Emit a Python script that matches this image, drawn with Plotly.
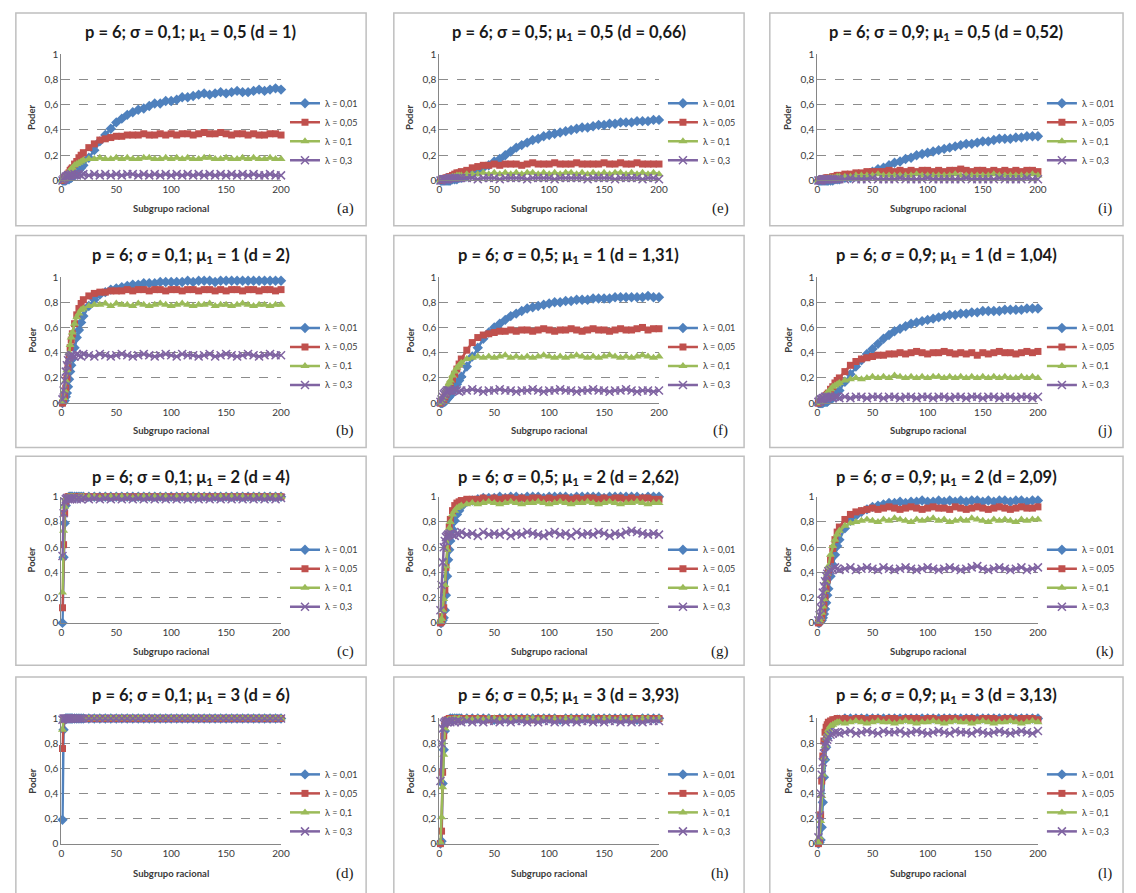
import plotly.graph_objects as go

# ---------------------------------------------------------------------------
# Data: power (Poder, in %) of the control chart per rational subgroup,
# for p = 6 and four smoothing constants lambda.
# ---------------------------------------------------------------------------
SUBGRUPO = [1, 2, 3, 4, 5, 6, 7, 8, 9, 10, 12, 14, 16, 18, 20,
            25, 30, 35, 40, 45, 50, 55, 60, 65, 70,
            75, 80, 85, 90, 95, 100, 105, 110, 115, 120,
            125, 130, 135, 140, 145, 150, 155, 160, 165, 170,
            175, 180, 185, 190, 195, 200]

LAMBDAS = ["λ = 0,01", "λ = 0,05", "λ = 0,1", "λ = 0,3"]

# (a) sigma = 0,1 ; mu1 = 0,5
a_001 = [0, 0, 0, 0, 1, 1, 1, 2, 2, 3, 4, 6, 8, 10, 12,
         18, 24, 31, 36, 41, 46, 49, 52, 54, 56,
         57, 59, 61, 61, 63, 63, 64, 66, 66, 67,
         68, 69, 68, 69, 70, 69, 70, 71, 70, 70,
         71, 72, 71, 72, 73, 72]
a_005 = [0, 1, 2, 3, 4, 5, 6, 8, 9, 10, 13, 15, 18, 20, 22,
         26, 29, 32, 33, 34, 35, 35, 36, 36, 36,
         37, 36, 36, 37, 36, 37, 36, 37, 37, 36,
         37, 38, 37, 37, 38, 37, 36, 37, 37, 36,
         37, 36, 36, 37, 37, 36]
a_01 = [0, 1, 2, 3, 4, 5, 7, 8, 9, 10, 12, 13, 14, 15, 16,
        17, 17, 18, 17, 17, 18, 17, 18, 17, 17,
        18, 18, 17, 17, 18, 17, 18, 17, 18, 17,
        17, 18, 18, 17, 17, 18, 17, 17, 18, 17,
        18, 17, 17, 18, 17, 17]
a_03 = [0, 1, 2, 3, 3, 4, 4, 4, 5, 4, 5, 4, 5, 4, 5,
        4, 5, 4, 5, 4, 5, 4, 5, 5, 4,
        5, 4, 5, 4, 5, 4, 5, 4, 5, 4,
        5, 4, 5, 4, 5, 4, 5, 4, 5, 4,
        5, 4, 4, 5, 4, 4]

# (b) sigma = 0,1 ; mu1 = 1
b_001 = [0, 1, 2, 5, 8, 13, 19, 25, 30, 35, 44, 52, 58, 64, 69,
         77, 82, 86, 88, 90, 91, 92, 93, 94, 94,
         95, 95, 95, 96, 96, 96, 96, 96, 97, 96,
         97, 97, 97, 96, 97, 97, 97, 97, 97, 97,
         97, 97, 97, 97, 97, 97]
b_005 = [0, 2, 6, 12, 20, 28, 36, 44, 50, 55, 63, 70, 75, 79, 82,
         85, 87, 88, 88, 89, 89, 89, 90, 89, 90,
         90, 89, 90, 90, 89, 90, 90, 89, 90, 90,
         89, 90, 90, 89, 90, 89, 90, 90, 89, 90,
         90, 89, 90, 90, 89, 90]
b_01 = [1, 4, 10, 18, 26, 33, 40, 46, 52, 56, 63, 68, 71, 74, 75,
        77, 78, 78, 79, 77, 79, 78, 78, 77, 79,
        78, 77, 78, 79, 78, 77, 78, 79, 78, 77,
        78, 78, 79, 77, 78, 78, 77, 78, 79, 78,
        77, 78, 78, 77, 78, 78]
b_03 = [3, 10, 18, 25, 30, 34, 36, 37, 38, 38, 37, 39, 38, 37, 39,
        38, 37, 39, 38, 37, 38, 39, 38, 37, 38,
        39, 38, 37, 38, 39, 38, 37, 39, 38, 38,
        37, 38, 39, 37, 38, 39, 38, 37, 38, 39,
        38, 37, 38, 39, 38, 38]

# (c) sigma = 0,1 ; mu1 = 2
c_001 = [0, 52, 79, 93, 98, 99, 100, 100, 100, 100, 100, 100, 100, 100, 100,
         100, 100, 100, 100, 100, 100, 100, 100, 100, 100,
         100, 100, 100, 100, 100, 100, 100, 100, 100, 100,
         100, 100, 100, 100, 100, 100, 100, 100, 100, 100,
         100, 100, 100, 100, 100, 100]
c_005 = [12, 62, 87, 96, 99, 100, 100, 100, 100, 100, 100, 100, 100, 100, 100,
         100, 100, 100, 100, 100, 100, 100, 100, 100, 100,
         100, 100, 100, 100, 100, 100, 100, 100, 100, 100,
         100, 100, 100, 100, 100, 100, 100, 100, 100, 100,
         100, 100, 100, 100, 100, 100]
c_01 = [24, 73, 92, 98, 99, 100, 99, 100, 100, 100, 100, 99, 100, 100, 100,
        100, 100, 99, 100, 100, 100, 100, 100, 99, 100,
        100, 100, 100, 100, 100, 99, 100, 100, 100, 100,
        100, 100, 99, 100, 100, 100, 100, 100, 100, 99,
        100, 100, 100, 100, 100, 100]
c_03 = [53, 87, 96, 98, 99, 98, 99, 98, 99, 98, 99, 98, 99, 98, 99,
        98, 99, 98, 99, 98, 99, 98, 99, 98, 99,
        98, 99, 98, 99, 98, 99, 98, 99, 98, 99,
        98, 99, 98, 99, 98, 99, 98, 99, 98, 99,
        98, 99, 98, 99, 98, 99]

# (d) sigma = 0,1 ; mu1 = 3
d_001 = [19, 91, 99, 100, 100, 100, 100, 100, 100, 100, 100, 100, 100, 100, 100,
         100, 100, 100, 100, 100, 100, 100, 100, 100, 100,
         100, 100, 100, 100, 100, 100, 100, 100, 100, 100,
         100, 100, 100, 100, 100, 100, 100, 100, 100, 100,
         100, 100, 100, 100, 100, 100]
d_005 = [76, 99, 100, 100, 100, 100, 100, 100, 100, 100, 100, 100, 100, 100, 100,
         100, 100, 100, 100, 100, 100, 100, 100, 100, 100,
         100, 100, 100, 100, 100, 100, 100, 100, 100, 100,
         100, 100, 100, 100, 100, 100, 100, 100, 100, 100,
         100, 100, 100, 100, 100, 100]
d_01 = [91, 100, 100, 100, 100, 100, 100, 100, 100, 100, 100, 100, 100, 100, 100,
        100, 100, 100, 100, 100, 100, 100, 100, 100, 100,
        100, 100, 100, 100, 100, 100, 100, 100, 100, 100,
        100, 100, 100, 100, 100, 100, 100, 100, 100, 100,
        100, 100, 100, 100, 100, 100]
d_03 = [99, 100, 100, 100, 100, 100, 100, 100, 100, 100, 100, 100, 100, 100, 100,
        100, 100, 100, 100, 100, 100, 100, 100, 100, 100,
        100, 100, 100, 100, 100, 100, 100, 100, 100, 100,
        100, 100, 100, 100, 100, 100, 100, 100, 100, 100,
        100, 100, 100, 100, 100, 100]

# (e) sigma = 0,5 ; mu1 = 0,5
e_001 = [0, 0, 0, 0, 0, 0, 0, 0, 0, 0, 1, 1, 1, 2, 2,
         3, 5, 7, 10, 12, 15, 17, 20, 23, 26,
         28, 30, 32, 33, 35, 36, 37, 38, 39, 40,
         41, 42, 42, 43, 44, 44, 45, 45, 46, 46,
         46, 47, 47, 47, 48, 48]
e_005 = [0, 0, 1, 1, 1, 2, 2, 2, 3, 3, 4, 5, 6, 6, 7,
         8, 10, 11, 12, 12, 13, 12, 13, 13, 13,
         12, 13, 14, 13, 13, 13, 14, 13, 13, 13,
         14, 13, 13, 13, 13, 14, 13, 13, 14, 13,
         13, 14, 13, 13, 13, 13]
e_01 = [0, 0, 1, 1, 1, 1, 2, 2, 2, 2, 3, 3, 4, 4, 4,
        5, 5, 5, 6, 5, 6, 5, 6, 5, 6,
        5, 6, 6, 5, 6, 5, 6, 5, 6, 6,
        5, 6, 5, 6, 5, 6, 5, 6, 6, 5,
        6, 5, 6, 5, 6, 5]
e_03 = [0, 0, 1, 1, 1, 1, 1, 1, 2, 2, 2, 2, 2, 2, 2,
        2, 2, 1, 2, 2, 2, 1, 2, 2, 2,
        2, 1, 2, 2, 2, 2, 1, 2, 2, 2,
        2, 2, 1, 2, 2, 2, 2, 1, 2, 2,
        2, 2, 1, 2, 2, 1]

# (f) sigma = 0,5 ; mu1 = 1
f_001 = [0, 0, 0, 1, 1, 2, 3, 4, 5, 6, 9, 12, 15, 18, 21,
         29, 37, 44, 51, 56, 60, 63, 66, 69, 71,
         73, 75, 76, 77, 78, 79, 80, 80, 81, 81,
         82, 82, 82, 83, 83, 83, 83, 84, 84, 84,
         84, 84, 84, 85, 84, 84]
f_005 = [0, 1, 2, 3, 5, 7, 9, 11, 13, 15, 19, 23, 27, 31, 35,
         42, 48, 52, 54, 55, 56, 57, 57, 58, 57,
         58, 58, 57, 58, 59, 58, 57, 58, 58, 59,
         58, 57, 58, 59, 58, 58, 57, 58, 59, 58,
         58, 59, 60, 58, 59, 59]
f_01 = [0, 1, 3, 5, 7, 10, 12, 14, 16, 18, 22, 25, 28, 30, 32,
        35, 36, 37, 36, 37, 36, 37, 38, 36, 37,
        36, 37, 36, 37, 38, 37, 36, 37, 36, 37,
        38, 37, 36, 37, 36, 37, 38, 37, 36, 37,
        36, 37, 38, 37, 36, 37]
f_03 = [1, 3, 5, 7, 8, 9, 10, 10, 10, 10, 10, 11, 10, 9, 10,
        10, 11, 10, 9, 10, 10, 11, 10, 10, 9,
        10, 10, 11, 10, 9, 10, 10, 11, 10, 10,
        9, 10, 10, 11, 10, 10, 9, 10, 10, 11,
        10, 9, 10, 10, 9, 10]

# (g) sigma = 0,5 ; mu1 = 2
g_001 = [0, 0, 2, 4, 10, 22, 37, 50, 58, 65, 74, 81, 86, 89, 92,
         96, 97, 98, 99, 99, 99, 100, 99, 100, 100,
         99, 100, 100, 100, 99, 100, 100, 100, 100, 99,
         100, 100, 100, 100, 100, 99, 100, 100, 100, 100,
         100, 100, 99, 100, 100, 100]
g_005 = [0, 1, 5, 12, 26, 44, 59, 69, 76, 82, 89, 93, 95, 96, 97,
         98, 98, 98, 99, 98, 99, 98, 99, 99, 98,
         99, 98, 99, 99, 98, 99, 98, 99, 99, 98,
         99, 98, 99, 99, 98, 99, 98, 99, 99, 98,
         99, 98, 99, 99, 98, 98]
g_01 = [1, 3, 10, 19, 30, 45, 58, 68, 75, 80, 86, 89, 91, 92, 93,
        94, 95, 94, 95, 96, 95, 94, 95, 96, 95,
        94, 95, 95, 96, 95, 94, 95, 96, 95, 94,
        95, 95, 96, 95, 94, 95, 96, 95, 94, 95,
        95, 96, 95, 94, 95, 95]
g_03 = [10, 30, 48, 60, 65, 68, 69, 70, 70, 71, 70, 69, 71, 70, 72,
        70, 71, 69, 72, 70, 71, 70, 72, 69, 71,
        70, 72, 71, 70, 69, 71, 72, 70, 71, 69,
        72, 70, 71, 70, 72, 71, 69, 71, 70, 72,
        73, 72, 71, 70, 71, 70]

# (h) sigma = 0,5 ; mu1 = 3
h_001 = [0, 2, 48, 75, 90, 96, 98, 99, 99, 100, 100, 100, 100, 100, 100,
         100, 100, 100, 100, 100, 99, 100, 100, 100, 100,
         100, 100, 100, 100, 100, 100, 100, 99, 100, 100,
         100, 100, 100, 100, 100, 100, 100, 100, 100, 100,
         100, 99, 100, 100, 100, 100]
h_005 = [0, 10, 57, 86, 95, 98, 99, 99, 100, 100, 100, 100, 100, 99, 100,
         100, 100, 100, 100, 99, 100, 100, 100, 100, 100,
         100, 100, 99, 100, 100, 100, 100, 100, 100, 100,
         100, 100, 100, 99, 100, 100, 100, 100, 100, 100,
         100, 100, 100, 100, 100, 100]
h_01 = [1, 21, 45, 71, 92, 97, 98, 99, 99, 99, 99, 100, 99, 100, 99,
        100, 99, 100, 99, 100, 100, 99, 100, 99, 100,
        99, 100, 100, 99, 100, 99, 100, 99, 100, 100,
        99, 100, 99, 100, 99, 100, 100, 99, 100, 99,
        100, 99, 100, 100, 99, 100]
h_03 = [50, 80, 92, 96, 97, 98, 97, 98, 98, 97, 98, 97, 98, 98, 97,
        98, 97, 98, 97, 98, 98, 97, 98, 97, 98,
        98, 97, 98, 97, 98, 98, 97, 98, 97, 98,
        97, 98, 98, 97, 98, 97, 98, 98, 97, 98,
        97, 98, 97, 98, 98, 98]

# (i) sigma = 0,9 ; mu1 = 0,5
i_001 = [0, 0, 0, 0, 0, 0, 0, 0, 0, 0, 0, 0, 1, 1, 1,
         2, 2, 3, 4, 5, 7, 9, 10, 12, 14,
         15, 17, 18, 20, 21, 22, 23, 24, 25, 26,
         27, 28, 29, 29, 30, 31, 31, 32, 33, 33,
         33, 34, 34, 35, 35, 35]
i_005 = [0, 0, 0, 1, 1, 1, 1, 2, 2, 2, 2, 3, 3, 4, 4,
         5, 5, 6, 6, 7, 7, 7, 7, 8, 7,
         8, 7, 8, 7, 8, 8, 7, 8, 7, 8,
         8, 9, 8, 7, 8, 8, 7, 8, 7, 8,
         7, 8, 7, 8, 8, 7]
i_01 = [0, 0, 0, 1, 1, 1, 1, 1, 1, 2, 2, 2, 2, 3, 3,
        3, 3, 4, 4, 4, 4, 5, 4, 4, 4,
        4, 4, 4, 5, 4, 4, 4, 4, 4, 4,
        5, 4, 4, 4, 4, 4, 4, 5, 4, 4,
        4, 4, 4, 4, 5, 4]
i_03 = [0, 0, 0, 0, 1, 1, 1, 1, 1, 1, 1, 1, 1, 1, 1,
        1, 2, 1, 1, 1, 2, 1, 1, 1, 1,
        2, 1, 1, 1, 1, 2, 1, 1, 1, 1,
        1, 1, 2, 1, 1, 1, 1, 1, 2, 1,
        1, 1, 1, 2, 1, 1]

# (j) sigma = 0,9 ; mu1 = 1
j_001 = [0, 0, 0, 0, 0, 1, 1, 1, 1, 2, 3, 4, 6, 8, 10,
         17, 23, 29, 34, 39, 43, 47, 51, 54, 57,
         59, 61, 63, 64, 65, 66, 67, 68, 69, 70,
         70, 71, 71, 72, 72, 73, 73, 73, 73, 74,
         74, 74, 74, 75, 75, 75]
j_005 = [0, 1, 1, 2, 3, 4, 5, 6, 7, 8, 11, 13, 16, 18, 20,
         25, 30, 33, 35, 36, 37, 38, 38, 39, 39,
         40, 39, 40, 41, 40, 39, 40, 40, 41, 40,
         39, 40, 39, 40, 38, 40, 39, 40, 41, 40,
         40, 39, 40, 41, 40, 41]
j_01 = [0, 1, 2, 3, 4, 5, 6, 7, 8, 9, 11, 13, 14, 15, 16,
        18, 19, 20, 19, 20, 21, 20, 21, 20, 22,
        21, 20, 21, 20, 21, 20, 21, 21, 20, 21,
        20, 21, 20, 21, 20, 21, 20, 21, 20, 21,
        20, 20, 21, 20, 21, 20]
j_03 = [1, 2, 3, 3, 4, 4, 5, 5, 4, 5, 5, 4, 5, 5, 4,
        5, 4, 5, 5, 4, 5, 5, 4, 5, 5,
        4, 5, 5, 4, 5, 5, 4, 5, 5, 4,
        5, 5, 4, 5, 5, 4, 5, 5, 4, 5,
        5, 4, 5, 5, 4, 5]

# (k) sigma = 0,9 ; mu1 = 2
k_001 = [0, 0, 1, 2, 4, 7, 11, 16, 22, 27, 37, 46, 54, 61, 66,
         75, 81, 85, 88, 90, 92, 93, 94, 95, 95,
         96, 95, 96, 96, 97, 96, 96, 97, 96, 97,
         96, 97, 96, 97, 97, 96, 97, 96, 97, 97,
         96, 97, 97, 96, 97, 97]
k_005 = [0, 1, 2, 4, 9, 14, 20, 27, 34, 40, 50, 59, 66, 72, 76,
         82, 86, 88, 89, 90, 91, 90, 91, 92, 91,
         90, 91, 92, 91, 90, 91, 92, 91, 91, 90,
         92, 91, 90, 91, 92, 91, 90, 91, 92, 91,
         90, 91, 92, 91, 91, 92]
k_01 = [1, 2, 4, 8, 13, 19, 26, 33, 39, 45, 54, 61, 66, 70, 73,
        77, 79, 80, 81, 82, 81, 80, 82, 81, 83,
        82, 81, 80, 82, 81, 82, 83, 81, 82, 80,
        81, 82, 81, 83, 82, 81, 80, 82, 81, 82,
        81, 80, 82, 81, 82, 82]
k_03 = [2, 6, 12, 18, 24, 29, 33, 37, 39, 41, 42, 43, 44, 43, 42,
        43, 44, 42, 43, 44, 43, 42, 44, 43, 42,
        43, 44, 43, 42, 43, 44, 43, 42, 43, 44,
        43, 42, 43, 44, 45, 43, 42, 43, 44, 43,
        42, 43, 44, 42, 43, 44]

# (l) sigma = 0,9 ; mu1 = 3
l_001 = [0, 1, 3, 13, 33, 53, 67, 77, 84, 88, 94, 97, 98, 99, 99,
         100, 100, 100, 100, 100, 100, 100, 100, 100, 100,
         100, 100, 100, 100, 100, 100, 100, 100, 100, 100,
         100, 100, 100, 100, 100, 100, 100, 100, 100, 100,
         100, 100, 100, 100, 100, 100]
l_005 = [0, 2, 23, 50, 70, 82, 89, 93, 95, 97, 98, 99, 99, 100, 99,
         100, 99, 100, 100, 99, 100, 100, 99, 100, 100,
         99, 100, 100, 100, 99, 100, 100, 99, 100, 100,
         100, 99, 100, 100, 99, 100, 100, 100, 99, 100,
         100, 99, 100, 100, 100, 99]
l_01 = [1, 5, 18, 38, 55, 68, 78, 84, 88, 91, 94, 95, 96, 97, 97,
        96, 97, 98, 97, 96, 97, 98, 97, 97, 96,
        97, 98, 97, 96, 97, 97, 98, 97, 96, 97,
        98, 97, 97, 96, 97, 98, 97, 96, 97, 97,
        98, 97, 96, 97, 98, 97]
l_03 = [5, 22, 40, 55, 65, 72, 78, 81, 83, 85, 87, 88, 89, 89, 88,
        89, 90, 88, 89, 90, 89, 88, 90, 89, 89,
        90, 88, 89, 90, 89, 88, 89, 90, 89, 88,
        90, 89, 89, 88, 90, 89, 88, 89, 90, 89,
        88, 89, 90, 89, 88, 90]

TITLES = [
    "p = 6; σ = 0,1; μ<sub>1</sub> = 0,5 (d = 1)",
    "p = 6; σ = 0,1; μ<sub>1</sub> = 1 (d = 2)",
    "p = 6; σ = 0,1; μ<sub>1</sub> = 2 (d = 4)",
    "p = 6; σ = 0,1; μ<sub>1</sub> = 3 (d = 6)",
    "p = 6; σ = 0,5; μ<sub>1</sub> = 0,5 (d = 0,66)",
    "p = 6; σ = 0,5; μ<sub>1</sub> = 1 (d = 1,31)",
    "p = 6; σ = 0,5; μ<sub>1</sub> = 2 (d = 2,62)",
    "p = 6; σ = 0,5; μ<sub>1</sub> = 3 (d = 3,93)",
    "p = 6; σ = 0,9; μ<sub>1</sub> = 0,5 (d = 0,52)",
    "p = 6; σ = 0,9; μ<sub>1</sub> = 1 (d = 1,04)",
    "p = 6; σ = 0,9; μ<sub>1</sub> = 2 (d = 2,09)",
    "p = 6; σ = 0,9; μ<sub>1</sub> = 3 (d = 3,13)",
]
TAGS = ["(a)", "(b)", "(c)", "(d)", "(e)", "(f)",
        "(g)", "(h)", "(i)", "(j)", "(k)", "(l)"]
SERIES = [
    [a_001, a_005, a_01, a_03], [b_001, b_005, b_01, b_03],
    [c_001, c_005, c_01, c_03], [d_001, d_005, d_01, d_03],
    [e_001, e_005, e_01, e_03], [f_001, f_005, f_01, f_03],
    [g_001, g_005, g_01, g_03], [h_001, h_005, h_01, h_03],
    [i_001, i_005, i_01, i_03], [j_001, j_005, j_01, j_03],
    [k_001, k_005, k_01, k_03], [l_001, l_005, l_01, l_03],
]

# ---------------------------------------------------------------------------
# Styling and page geometry (pixels on a 1136 x 893 page)
# ---------------------------------------------------------------------------
W, H = 1136, 893
SANS = "Lato, 'Noto Sans', sans-serif"
SERIF = "'Liberation Serif', 'DejaVu Serif', serif"
GRAY_TXT = "#3a3a3a"

STYLES = [
    dict(color="#4F81BD", marker=dict(symbol="diamond", size=8, color="#4F81BD")),
    dict(color="#C0504D", marker=dict(symbol="square", size=7, color="#C0504D")),
    dict(color="#9BBB59", marker=dict(symbol="triangle-up", size=8, color="#9BBB59")),
    dict(color="#8064A2", marker=dict(symbol="x-thin", size=8, color="#8064A2",
                                      line=dict(color="#8064A2", width=1.5))),
]

COLS = [
    dict(box=(13, 367), ax=(59, 281), leg=285, tag=346, poder=29),
    dict(box=(395, 749), ax=(441, 663), leg=667, tag=725, poder=411),
    dict(box=(775, 1132), ax=(823, 1046), leg=1050, tag=1114, poder=793),
]
ROWS = [
    dict(box=(6, 222), ax=(48, 176), title=26, xt=204, leg=83),
    dict(box=(232, 447), ax=(274, 402), title=252, xt=430, leg=311),
    dict(box=(456, 668), ax=(497, 625), title=477, xt=654, leg=536),
    dict(box=(680, 905), ax=(722, 849), title=699, xt=879, leg=764),
]


def fx(v):
    return v / W


def fy(v):
    return 1 - v / H


fig = go.Figure()
layout = dict(
    width=W, height=H, margin=dict(l=0, r=0, t=0, b=0),
    paper_bgcolor="white", plot_bgcolor="white",
    separators=", ", font=dict(family=SANS, color=GRAY_TXT),
)
annotations, shapes = [], []

for k in range(12):
    c, r = divmod(k, 4)
    col, row = COLS[c], ROWS[r]
    n = k + 1
    sfx = "" if n == 1 else str(n)
    xa, ya, lg = "x" + sfx, "y" + sfx, "legend" + sfx

    for name, vals, st in zip(LAMBDAS, SERIES[k], STYLES):
        fig.add_trace(go.Scatter(
            x=SUBGRUPO, y=[v / 100 for v in vals], name=name,
            mode="lines+markers", xaxis=xa, yaxis=ya, legend=lg,
            cliponaxis=False, line=dict(color=st["color"], width=2.5),
            marker=st["marker"],
        ))

    layout["xaxis" + sfx] = dict(
        domain=[fx(col["ax"][0]), fx(col["ax"][1])], anchor=ya,
        range=[0, 200], tickvals=[0, 50, 100, 150, 200], showgrid=False,
        zeroline=False, showline=True, linecolor="#868686", linewidth=1,
        ticks="", tickfont=dict(size=10, family=SANS, color=GRAY_TXT),
        fixedrange=True,
    )
    layout["yaxis" + sfx] = dict(
        domain=[fy(row["ax"][1]), fy(row["ax"][0])], anchor=xa,
        range=[0, 1], dtick=0.2, tick0=0, showgrid=True,
        gridcolor="#8c8c8c", griddash="dash", gridwidth=1, zeroline=False,
        showline=True, linecolor="#868686", linewidth=1, ticks="",
        tickfont=dict(size=10, family=SANS, color=GRAY_TXT), fixedrange=True,
    )
    layout[lg] = dict(
        x=fx(col["leg"]), y=fy(row["leg"]), xanchor="left", yanchor="top",
        bgcolor="rgba(0,0,0,0)", borderwidth=0, itemwidth=30,
        tracegroupgap=0, font=dict(size=9, family=SANS, color=GRAY_TXT),
    )

    # panel frame
    shapes.append(dict(
        type="rect", xref="paper", yref="paper", layer="below",
        x0=fx(col["box"][0]), x1=fx(col["box"][1]),
        y0=fy(row["box"][1]), y1=fy(row["box"][0]),
        line=dict(color="#BFBFBF", width=1.5), fillcolor="rgba(0,0,0,0)",
    ))
    # chart title
    annotations.append(dict(
        text="<b>" + TITLES[k] + "</b>", xref="paper", yref="paper",
        x=fx((col["box"][0] + col["box"][1]) / 2), y=fy(row["title"]),
        xanchor="center", yanchor="middle", showarrow=False,
        font=dict(size=16.5, family=SANS, color="#1a1a1a"),
    ))
    # axis titles
    annotations.append(dict(
        text="<b>Subgrupo racional</b>", xref="paper", yref="paper",
        x=fx((col["ax"][0] + col["ax"][1]) / 2), y=fy(row["xt"]),
        xanchor="center", yanchor="middle", showarrow=False,
        font=dict(size=9.5, family=SANS, color=GRAY_TXT),
    ))
    annotations.append(dict(
        text="<b>Poder</b>", xref="paper", yref="paper", textangle=-90,
        x=fx(col["poder"]), y=fy((row["ax"][0] + row["ax"][1]) / 2),
        xanchor="center", yanchor="middle", showarrow=False,
        font=dict(size=9.5, family=SANS, color=GRAY_TXT),
    ))
    # panel tag
    annotations.append(dict(
        text=TAGS[k], xref="paper", yref="paper",
        x=fx(col["tag"]), y=fy(row["xt"]),
        xanchor="center", yanchor="middle", showarrow=False,
        font=dict(size=15, family=SERIF, color="#1a1a1a"),
    ))

layout["annotations"] = annotations
layout["shapes"] = shapes
fig.update_layout(**layout)
fig.write_html("out.html")
